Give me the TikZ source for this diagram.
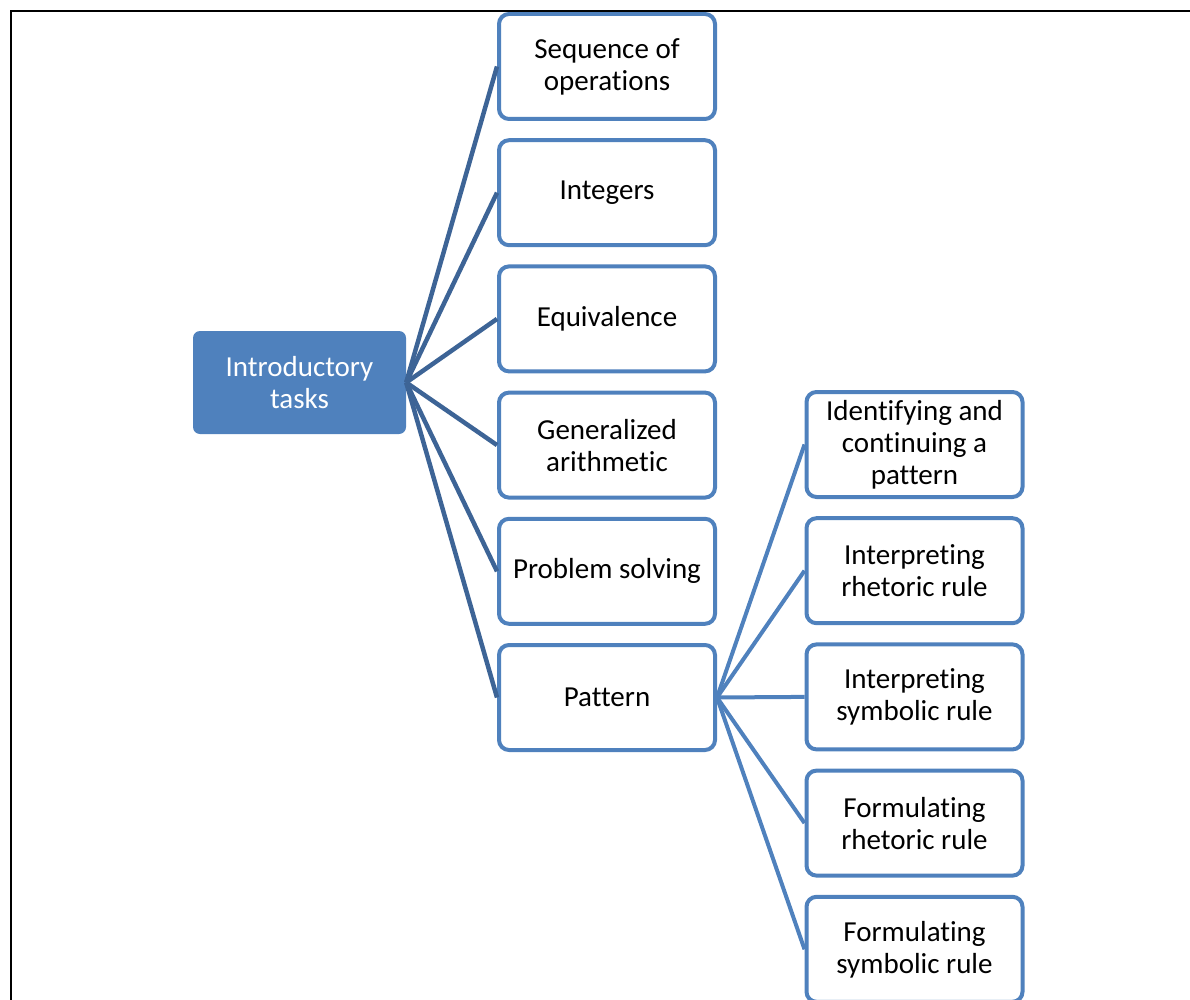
\documentclass[tikz,border=0pt]{standalone}
\usepackage{fontspec}
\setmainfont{Carlito}[Ligatures=NoCommon]
\usetikzlibrary{positioning}

\definecolor{taskblue}{HTML}{4F81BD}
\definecolor{linkdark}{HTML}{3D6496}

\begin{document}
\begin{tikzpicture}[x=1pt, y=-1pt,
  task/.style={draw=taskblue, line width=4pt, rounded corners=10pt,
    fill=white, minimum width=216pt, minimum height=105pt, inner sep=0pt,
    align=center, font=\fontsize{29}{32}\selectfont},
  root/.style={fill=taskblue, text=white, rounded corners=7pt,
    minimum width=213pt, minimum height=103pt, inner sep=0pt,
    align=center, font=\fontsize{29}{32}\selectfont},
  link/.style={draw=linkdark, line width=4.5pt},
  sublink/.style={draw=taskblue, line width=4pt}]

\newcommand\MidX{607}
\newcommand\SubX{914.5}
\newcommand\Pitch{126.2}

\useasboundingbox (0,0) rectangle (1190,1000);

%% root
\node[root] (intro) at (299.5, 382.5) {Introductory\\tasks};

%% middle column
\node[task] (seq)   at (\MidX, 66.5)          {Sequence of\\operations};
\node[task] (integ) at (\MidX, 66.5+1*\Pitch) {Integers};
\node[task] (equiv) at (\MidX, 66.5+2*\Pitch) {Equivalence};
\node[task] (genar) at (\MidX, 66.5+3*\Pitch) {Generalized\\arithmetic};
\node[task] (probs) at (\MidX, 66.5+4*\Pitch) {Problem solving};
\node[task] (patt)  at (\MidX, 66.5+5*\Pitch) {Pattern};

%% right column
\node[task] (ident) at (\SubX, 444.5)          {Identifying and\\continuing a\\pattern};
\node[task] (irhet) at (\SubX, 444.5+1*\Pitch) {Interpreting\\rhetoric rule};
\node[task] (isymb) at (\SubX, 444.5+2*\Pitch) {Interpreting\\symbolic rule};
\node[task] (frhet) at (\SubX, 444.5+3*\Pitch) {Formulating\\rhetoric rule};
\node[task] (fsymb) at (\SubX, 444.5+4*\Pitch) {Formulating\\symbolic rule};

\draw[link] (intro.east) -- (seq.west);
\draw[link] (intro.east) -- (integ.west);
\draw[link] (intro.east) -- (equiv.west);
\draw[link] (intro.east) -- (genar.west);
\draw[link] (intro.east) -- (probs.west);
\draw[link] (intro.east) -- (patt.west);

\draw[sublink] (patt.east) -- (ident.west);
\draw[sublink] (patt.east) -- (irhet.west);
\draw[sublink] (patt.east) -- (isymb.west);
\draw[sublink] (patt.east) -- (frhet.west);
\draw[sublink] (patt.east) -- (fsymb.west);

%% frame
\coordinate (fbl) at (11,1000);
\coordinate (ftl) at (11,11);
\coordinate (ftr) at (1190,11);
\draw[line width=2.5pt] (fbl) -- (ftl) -- (ftr);

\end{tikzpicture}
\end{document}
